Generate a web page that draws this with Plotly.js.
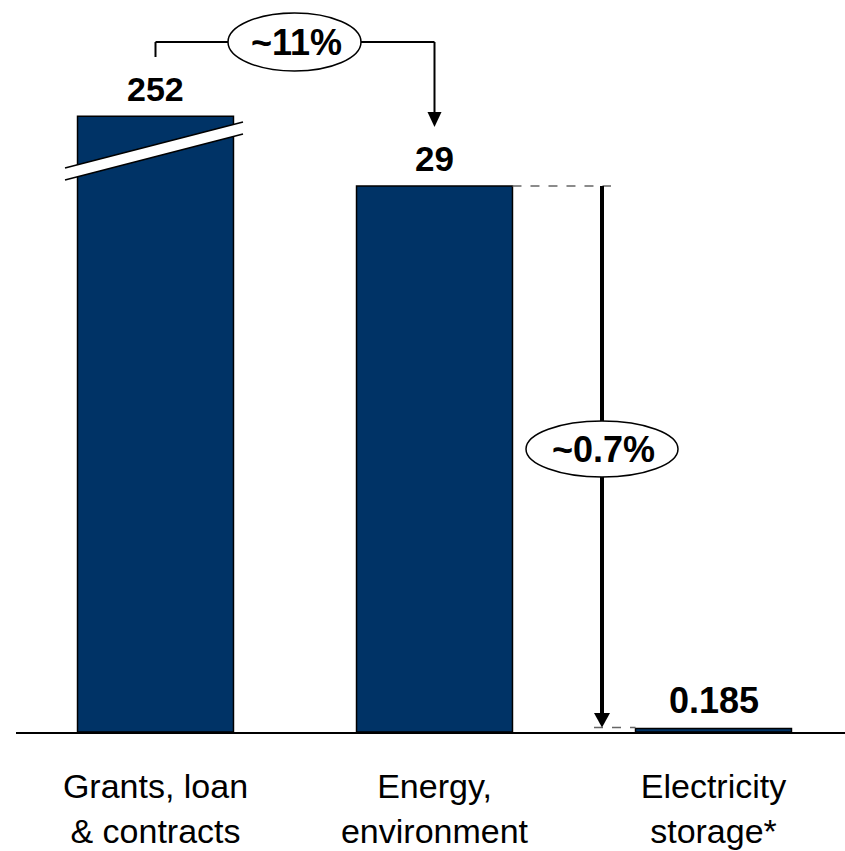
<!DOCTYPE html>
<html>
<head>
<meta charset="utf-8">
<script src="https://cdn.plot.ly/plotly-3.0.1.min.js"></script>
<style>html,body{margin:0;padding:0;background:#fff;}#chart{width:845px;height:851px;}</style>
</head>
<body>
<div id="chart"></div>
<script>
// ---- data ----
const categories = ['Grants, loan<br>& contracts', 'Energy,<br>environment', 'Electricity<br>storage*'];
const values = [252, 29, 0.185];
const valueLabels = ['252', '29', '0.185'];
const shareLabels = ['~11%', '~0.7%'];

// ---- display settings ----
const brokenCap = 32.7;          // drawn height of the out-of-scale (broken) bar
const W = 845, Hgt = 851;
const M = {l: 16, r: 0, t: 10, b: 119};
const plotW = W - M.l - M.r, plotH = Hgt - M.t - M.b;
const xMin = -0.5, xSpan = plotW / 279;
const yMax = 38.35;
const barColor = '#003366';
const FONT = 'Liberation Sans, Arial, sans-serif';

// pixel -> data helpers (for decorations only)
const X = px => xMin + (px - M.l) / plotW * xSpan;
const Y = py => (Hgt - M.b - py) / plotH * yMax;
const dx = p => p / plotW * xSpan;
const dy = p => p / plotH * yMax;

const xs = categories.map((c, i) => i);
const shown = values.map(v => Math.min(v, brokenCap));
const barW = 0.559;

const trace = {
  type: 'bar', x: xs, y: shown, width: barW,
  marker: {color: barColor, line: {color: '#000', width: 1.5}},
  hoverinfo: 'skip'
};

const shapes = [];
const line = (x0, y0, x1, y1, w, extra) => Object.assign({type: 'line', xref: 'x', yref: 'y', x0, y0, x1, y1, line: {color: '#000', width: w}}, extra || {});

// broken bar band
const bx0 = X(65), bx1 = X(243);
shapes.push({type: 'path', xref: 'x', yref: 'y',
  path: `M ${bx0} ${Y(168)} L ${bx1} ${Y(122)} L ${bx1} ${Y(134)} L ${bx0} ${Y(180)} Z`,
  fillcolor: '#fff', line: {width: 0}});
shapes.push(line(bx0, Y(168), bx1, Y(122), 1.5));
shapes.push(line(bx0, Y(180), bx1, Y(134), 1.5));

// ~11% bracket
const yTop = Y(42);
shapes.push(line(0, Y(57), 0, yTop, 2));
shapes.push(line(0, yTop, 1, yTop, 2));
shapes.push(line(1, yTop, 1, Y(113), 2));
shapes.push({type: 'path', xref: 'x', yref: 'y',
  path: `M ${1 - dx(7)} ${Y(112)} L ${1 + dx(7)} ${Y(112)} L 1 ${Y(127)} Z`,
  fillcolor: '#000', line: {width: 0}});
shapes.push({type: 'circle', xref: 'x', yref: 'y', x0: X(228), x1: X(361), y0: Y(71), y1: Y(13),
  fillcolor: '#fff', line: {color: '#000', width: 1.5}});

// ~0.7% arrow
const ax = X(602);
shapes.push(line(1 + barW / 2, values[1], X(611), values[1], 1.5, {line: {color: '#666', width: 1.5, dash: 'dash'}}));
shapes.push(line(X(594), values[2] + dy(1), 2 - barW / 2, values[2] + dy(1), 1.5, {line: {color: '#666', width: 1.5, dash: 'dash'}}));
shapes.push(line(ax, values[1], ax, Y(714), 4));
shapes.push({type: 'path', xref: 'x', yref: 'y',
  path: `M ${ax - dx(8)} ${Y(713)} L ${ax + dx(8)} ${Y(713)} L ${ax} ${values[2] + dy(1)} Z`,
  fillcolor: '#000', line: {width: 0}});
shapes.push({type: 'circle', xref: 'x', yref: 'y', x0: X(526), x1: X(678), y0: Y(477), y1: Y(421),
  fillcolor: '#fff', line: {color: '#000', width: 1.5}});

const valueSizes = [34, 35, 36];
const annotations = xs.map((x, i) => ({
  x, y: shown[i], xref: 'x', yref: 'y', text: valueLabels[i], showarrow: false,
  yanchor: 'bottom', yshift: 6, font: {family: FONT, size: valueSizes[i], color: '#000', weight: 'bold'}
}));
annotations.push({x: X(296), y: yTop, xref: 'x', yref: 'y', text: shareLabels[0], showarrow: false,
  font: {family: FONT, size: 36, color: '#000', weight: 'bold'}});
annotations.push({x: X(603), y: Y(449), xref: 'x', yref: 'y', text: shareLabels[1], showarrow: false,
  font: {family: FONT, size: 36, color: '#000', weight: 'bold'}});

const layout = {
  width: W, height: Hgt, margin: M,
  paper_bgcolor: '#fff', plot_bgcolor: '#fff', showlegend: false,
  xaxis: {range: [xMin, xMin + xSpan], tickvals: xs, ticktext: categories, showgrid: false, zeroline: false,
    showline: true, linecolor: '#000', linewidth: 1.5, ticks: '', ticklabelstandoff: 24,
    tickfont: {family: FONT, size: 34, color: '#000'}, fixedrange: true},
  yaxis: {range: [0, yMax], visible: false, showgrid: false, zeroline: false, fixedrange: true},
  shapes, annotations
};

Plotly.newPlot('chart', [trace], layout, {displayModeBar: false, staticPlot: true});
</script>
</body>
</html>
